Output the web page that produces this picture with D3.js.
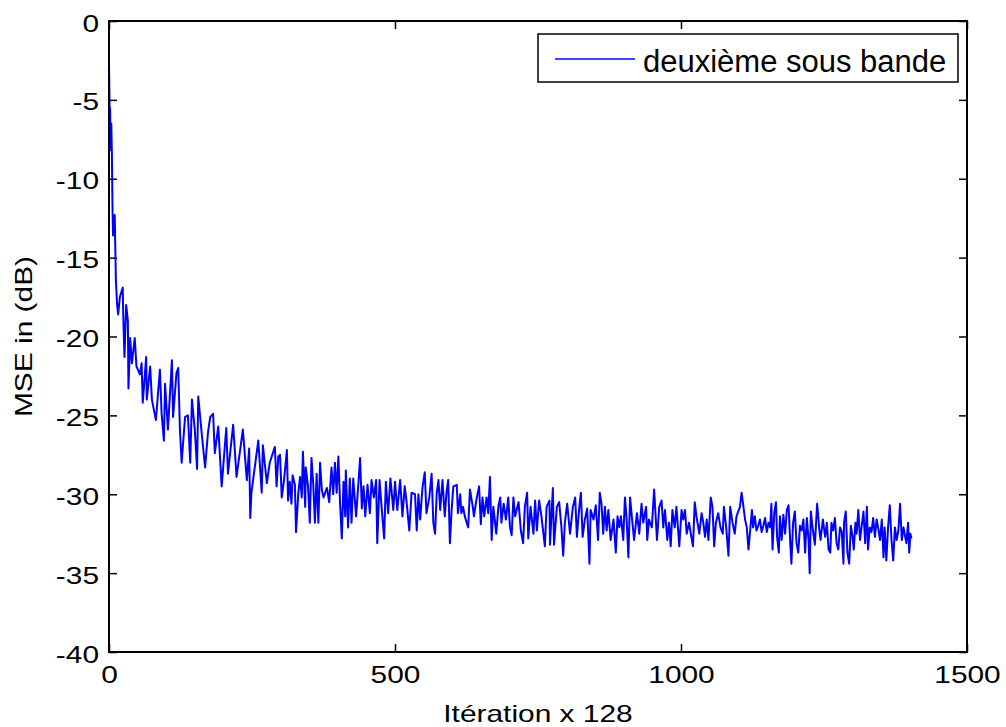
<!DOCTYPE html>
<html>
<head>
<meta charset="utf-8">
<script src="https://cdnjs.cloudflare.com/ajax/libs/d3/7.8.5/d3.min.js"></script>
<style>
  body { margin: 0; background: white; }
  svg { display: block; font-family: "Liberation Sans", Arial, sans-serif; }
</style>
</head>
<body>
<div id="chart"></div>
<script>
"use strict"

// series (iteration x 128, MSE in dB)
const iterations = [
  0, 1, 2, 3, 4, 5, 6, 7, 10, 12, 14, 16, 19, 24, 25, 27, 30, 33, 34, 37,
  40, 45, 48, 54, 57, 59, 65, 66, 72, 75, 82, 89, 92, 96, 98, 103, 110, 112, 118, 121,
  124, 127, 133, 138, 142, 145, 150, 154, 156, 162, 168, 173, 177, 182, 185, 191, 197, 205, 208, 217,
  223, 234, 241, 245, 247, 249, 261, 267, 269, 276, 281, 290, 293, 296,
  299, 302, 306, 311, 313, 316, 319, 321, 325, 327, 331, 334, 337, 339, 343, 344, 348, 351, 354, 357,
  360, 363, 366, 369, 372, 375, 381, 385, 389, 392, 395, 398, 401, 404, 407, 410, 413, 414, 418, 421,
  424, 427, 432, 436, 439, 442, 445, 448, 452, 456, 459, 463, 467, 469, 473, 477, 481, 484, 488, 492,
  497, 500, 504, 509, 513, 517, 520, 525, 529, 535, 538, 541, 544, 548, 552, 555, 560, 564, 567, 570,
  573, 576, 579, 583, 587, 590, 593, 596, 599, 602, 608, 610, 614, 616, 619, 622, 628, 631, 636, 638,
  643, 647, 650, 653, 656, 660, 663, 666, 669, 672, 677, 681, 684,
  686, 690, 694, 698, 701, 704, 707, 710, 716, 720, 724, 727, 731, 733, 737, 742, 745, 748, 752, 756,
  762, 765, 770, 771, 776, 778, 783, 787, 791, 794, 797, 801, 806, 811, 815, 818, 822, 825, 828, 832,
  836, 840, 842, 847, 851, 855, 858, 861, 864, 867, 870, 873, 877, 882, 886, 889, 892, 895, 899, 902,
  905, 908, 911, 914, 918, 923, 927, 931, 934, 939, 941, 944, 949, 953, 956, 958, 962, 966, 969, 972,
  976, 979, 982, 985, 989, 992, 997, 1001, 1004, 1007, 1010, 1014, 1019, 1021, 1024, 1027, 1032, 1036, 1039, 1042,
  1045, 1048, 1052, 1055, 1058, 1061, 1065, 1069, 1073, 1075, 1079, 1083, 1086, 1090, 1094, 1097, 1100, 1103, 1106, 1112,
  1115, 1118,
  1124, 1126, 1129, 1132, 1135, 1138, 1141, 1144, 1147, 1150, 1153, 1156, 1158, 1160, 1163, 1166, 1168, 1171, 1173, 1176,
  1179, 1182, 1185, 1188, 1191, 1193, 1196, 1199, 1202, 1205, 1208, 1211, 1214, 1217, 1220, 1223, 1225, 1227, 1230, 1234,
  1238, 1242, 1244, 1248, 1252, 1255, 1258, 1261, 1263, 1266, 1269, 1272, 1275, 1278, 1281, 1284, 1285, 1288, 1291, 1294,
  1297, 1300, 1302, 1305, 1307, 1310, 1313, 1316, 1319, 1322, 1325, 1327, 1330, 1333, 1336, 1339, 1342, 1345, 1348, 1351,
  1354, 1356, 1359, 1362, 1365, 1368, 1371, 1374, 1377, 1380, 1383, 1386, 1389, 1392, 1394, 1397, 1399, 1401, 1403
];

const mseDb = [
  -2.8, -5.4, -5.6, -8.2, -6.5, -8.3, -11.5, -13.6, -12.3, -16.4, -17.9, -18.6, -17.5, -16.9, -18.8, -21.3, -18, -19, -23.3, -20.1,
  -21.7, -20.1, -21.9, -22.4, -21.7, -24.2, -21.3, -24, -21.9, -24, -25.3, -22.1, -24.9, -26.6, -23, -25.9, -21.5, -25.1, -22.3, -22.0,
  -25.9, -28, -25.1, -25, -28, -24, -25.9, -28.4, -23.8, -26.1, -28.3, -26.1, -25.1, -24.9, -27.4, -25.7, -29.5, -25.8, -28.7, -25.6,
  -28.9, -25.9, -29.1, -27.1, -31.5, -29.9, -26.6, -29.9, -26.9, -29.3, -28, -27, -29.5, -27.6,
  -27.5, -30.2, -29.1, -27.2, -30.4, -29.2, -30.6, -28.8, -29.4, -32.4, -29.9, -28.9, -30.2, -27.3, -30.8, -28.3, -29.5, -31.8, -27.7, -29.3,
  -31.8, -28.7, -31.8, -28, -29.7, -30.2, -29.6, -30.5, -28.3, -30, -28, -29.9, -27.6, -30.6, -32.8, -29.2, -31.4, -28.5, -32.1, -29,
  -31.8, -29, -31.4, -29.3, -27.7, -30.9, -29.5, -31.4, -29.4, -31.2, -29.1, -30.2, -29.1, -33.1, -29.1, -31, -32.8, -29.2, -31.2, -29,
  -31, -29.2, -31, -29.1, -31.4, -29.5, -30.4, -32.3, -29.9, -30, -32.3, -30, -31.6, -29.6, -28.6, -31.2, -30.2, -28.7, -31.8, -32.5,
  -29.9, -29.1, -31, -29.1, -31.4, -29.9, -29.1, -33.1, -31, -29.5, -29.4, -31.2, -30, -31.2, -30.8, -31.4, -32.1, -29.7, -30.8, -31.4,
  -30.2, -29.5, -31.9, -30.2, -31.4, -30.2, -31.2, -28.9, -32.9, -30.8, -32.5, -30.7, -30.2,
  -31.8, -30.6, -31.6, -30.2, -32.1, -32.6, -30.2, -31.4, -30.5, -32.3, -33.1, -30.8, -29.9, -32.8, -30.8, -32.5, -30.4, -32.3, -30.4, -31.4,
  -33.3, -30.8, -30.4, -33.2, -29.6, -33.2, -30.8, -30.5, -32.1, -33.9, -31.8, -30.6, -32.5, -30.8, -30.2, -32.7, -30.9, -29.9, -32.7, -31.6,
  -30.9, -34.4, -31, -31.6, -30.7, -32.9, -29.9, -30.6, -32.5, -30.8, -32.3, -31, -32.9, -31.6, -33.7, -31.4, -32.1, -31.4, -32.9, -30.2,
  -31.6, -34, -30.2, -31.4, -32.9, -31.2, -32.5, -30.6, -31.8, -30.8, -32.9, -31.6, -32.1, -29.7, -31.6, -32.9, -30.8, -30.4, -32.1, -31,
  -32.9, -31.8, -33.3, -31, -32.1, -30.8, -33.3, -31, -31.6, -31, -32.5, -31.8, -32.9, -33.3, -30.5, -31.4, -32.5, -31.2, -31.8, -32.7,
  -31.6, -32.9, -30.2, -30.8, -33.3, -31.8, -31.2, -32.1, -32.5, -30.8, -32.1, -33.9, -30.8, -31.8, -32.5, -31.4, -31.1, -30.8, -29.9, -31.6,
  -32.1, -33.5,
  -31, -32.1, -31.4, -32.3, -32, -31.6, -32.4, -32, -31.5, -32.4, -31.8, -32.1, -30.6, -33.5, -31.2, -30.5, -32.7, -33.7, -31.4, -32.9,
  -31.3, -32.5, -31, -30.7, -33.1, -34.4, -31.8, -31.1, -33.1, -33.7, -32, -32.3, -31.6, -33.7, -31.5, -32.9, -35, -31.1, -32.1, -33.2,
  -30.6, -32.3, -32.9, -31.6, -32.7, -31.8, -33.5, -33.7, -31.8, -32.3, -31.5, -33.1, -33.5, -32.1, -32.4, -34.4, -31.8, -31.1, -33.7, -34.4,
  -32, -32.7, -33.5, -31.8, -32.5, -31, -32.9, -32, -31.1, -33.1, -30.8, -33.5, -32.1, -32.4, -31.5, -32.7, -31.6, -32.2, -32.9, -31.6,
  -34, -32.1, -34.2, -32.1, -30.7, -32.9, -34.2, -32.1, -32.9, -32.3, -30.6, -32.9, -32.1, -32.7, -33.1, -31.8, -33.7, -32.5, -32.8
];

const xTicks = [0, 500, 1000, 1500];
const yTicks = [0, -5, -10, -15, -20, -25, -30, -35, -40];
const seriesName = "deuxième sous bande";
const xTitle = "Itération x 128";
const yTitle = "MSE in (dB)";

let width = 1006, height = 727;
let margin = {left: 109, right: 39, top: 21, bottom: 75};
let stretch = 1.3; // the tick text in the picture is wider than plain Arial

// plain hyphen for negatives, no thousands separator
let plainNumber = d => String(d);

let svg = d3.select("#chart").append("svg")
  .attr("width", width)
  .attr("height", height);

let x = d3.scaleLinear()
  .domain([0, 1500])
  .range([margin.left, width - margin.right]);

let y = d3.scaleLinear()
  .domain([-40, 0])
  .range([height - margin.bottom, margin.top]);

// bottom axis with labels
let xAxis = svg.append("g")
  .attr("transform", "translate(0," + y(-40) + ")")
  .call(d3.axisBottom(x).tickValues(xTicks).tickFormat(plainNumber)
    .tickSizeInner(-8).tickSizeOuter(0).tickPadding(14));

// left axis with labels
let yAxis = svg.append("g")
  .attr("transform", "translate(" + x(0) + ",0)")
  .call(d3.axisLeft(y).tickValues(yTicks).tickFormat(plainNumber)
    .tickSizeInner(-8).tickSizeOuter(0).tickPadding(10));

// top and right: ticks only
svg.append("g")
  .attr("transform", "translate(0," + y(0) + ")")
  .call(d3.axisTop(x).tickValues(xTicks).tickSizeInner(-8).tickSizeOuter(0).tickFormat(""));

svg.append("g")
  .attr("transform", "translate(" + x(1500) + ",0)")
  .call(d3.axisRight(y).tickValues(yTicks).tickSizeInner(-8).tickSizeOuter(0).tickFormat(""));

svg.selectAll(".domain").remove();
svg.selectAll(".tick line").attr("stroke", "#000").attr("stroke-width", 1.5);

xAxis.selectAll("text")
  .attr("font-size", 23)
  .attr("fill", "#000")
  .attr("font-family", "Liberation Sans, Arial, sans-serif")
  .attr("y", 31)
  .attr("dy", null)
  .attr("transform", "scale(" + stretch + ",1)");

yAxis.selectAll("text")
  .attr("font-size", 23)
  .attr("fill", "#000")
  .attr("font-family", "Liberation Sans, Arial, sans-serif")
  .attr("x", -10 / stretch)
  .attr("dy", 10)
  .attr("transform", "scale(" + stretch + ",1)");

// data line
let line = d3.line()
  .x((d, i) => x(iterations[i]))
  .y(d => y(d));

svg.append("path")
  .datum(mseDb)
  .attr("d", line)
  .attr("fill", "none")
  .attr("stroke", "#0000ff")
  .attr("stroke-width", 2)
  .attr("stroke-linejoin", "round");

// frame
svg.append("rect")
  .attr("x", x(0))
  .attr("y", y(0))
  .attr("width", x(1500) - x(0))
  .attr("height", y(-40) - y(0))
  .attr("fill", "none")
  .attr("stroke", "#000")
  .attr("stroke-width", 2);

// axis titles
svg.append("text")
  .attr("transform", "translate(" + (x(0) + x(1500)) / 2 + ",722) scale(" + stretch + ",1)")
  .attr("text-anchor", "middle")
  .attr("font-size", 23)
  .text(xTitle);

svg.append("text")
  .attr("transform", "translate(32," + (y(0) + y(-40)) / 2 + ") rotate(-90) scale(" + stretch + ",1)")
  .attr("text-anchor", "middle")
  .attr("font-size", 23)
  .text(yTitle);

// legend
let legend = svg.append("g");

legend.append("rect")
  .attr("x", 538)
  .attr("y", 34)
  .attr("width", 420)
  .attr("height", 48)
  .attr("fill", "white")
  .attr("stroke", "#000")
  .attr("stroke-width", 1.5);

legend.append("line")
  .attr("x1", 555)
  .attr("x2", 635)
  .attr("y1", 59)
  .attr("y2", 59)
  .attr("stroke", "#0000ff")
  .attr("stroke-width", 1.7);

legend.append("text")
  .attr("x", 643)
  .attr("y", 72)
  .attr("font-size", 31)
  .text(seriesName);
</script>
</body>
</html>
